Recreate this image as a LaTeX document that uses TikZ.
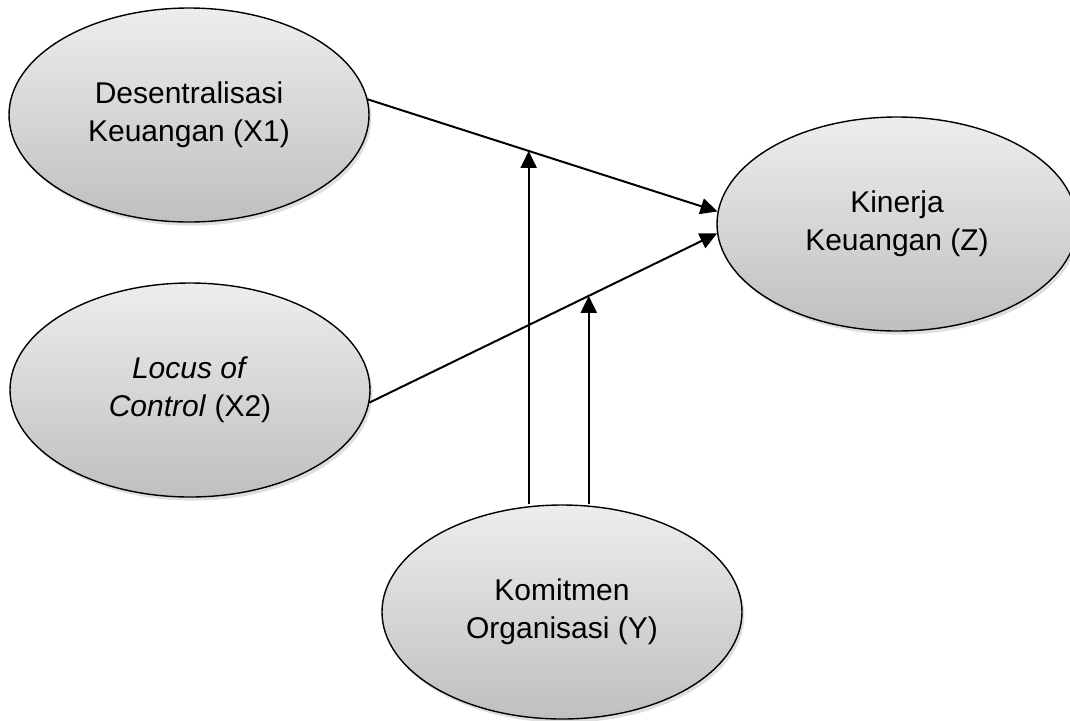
\documentclass[tikz,border=0pt]{standalone}
\usepackage{fontspec}
\setmainfont{Liberation Sans}
\usepackage{tikz}
\usetikzlibrary{arrows.meta,calc,shapes.geometric,shadows}

\tikzset{
  var/.style={ellipse, draw, line width=0.7pt, minimum width=180pt, minimum height=107pt,
    top color=black!7, bottom color=black!25, align=center,
    font=\fontsize{15}{18.8}\selectfont,
    drop shadow={opacity=0.25, shadow xshift=1.2pt, shadow yshift=-1.8pt}},
  path/.style={line width=1pt, -{Triangle[length=8.5pt, width=8pt]}}
}

\begin{document}
\begin{tikzpicture}[x=0.5pt,y=-0.5pt]
\useasboundingbox (0,0) rectangle (1070,720);

\node[var] (x1) at (189,115) {Desentralisasi\\Keuangan (X1)};
\node[var] (x2) at (190,390) {\textit{Locus of}\\\textit{Control} (X2)};
\node[var] (z)  at (897,224) {Kinerja\\Keuangan (Z)};
\node[var] (y)  at (562,612) {Komitmen\\Organisasi (Y)};

\draw[path] (x1.5) -- (z.176) coordinate[pos=0.46] (m1);
\draw[path] (x2.356) -- (z.183) coordinate[pos=0.631] (m2);

% moderasi
\draw[path] (m1 |- y.north) -- (m1);
\draw[path] (m2 |- y.north) -- (m2);
\end{tikzpicture}
\end{document}
